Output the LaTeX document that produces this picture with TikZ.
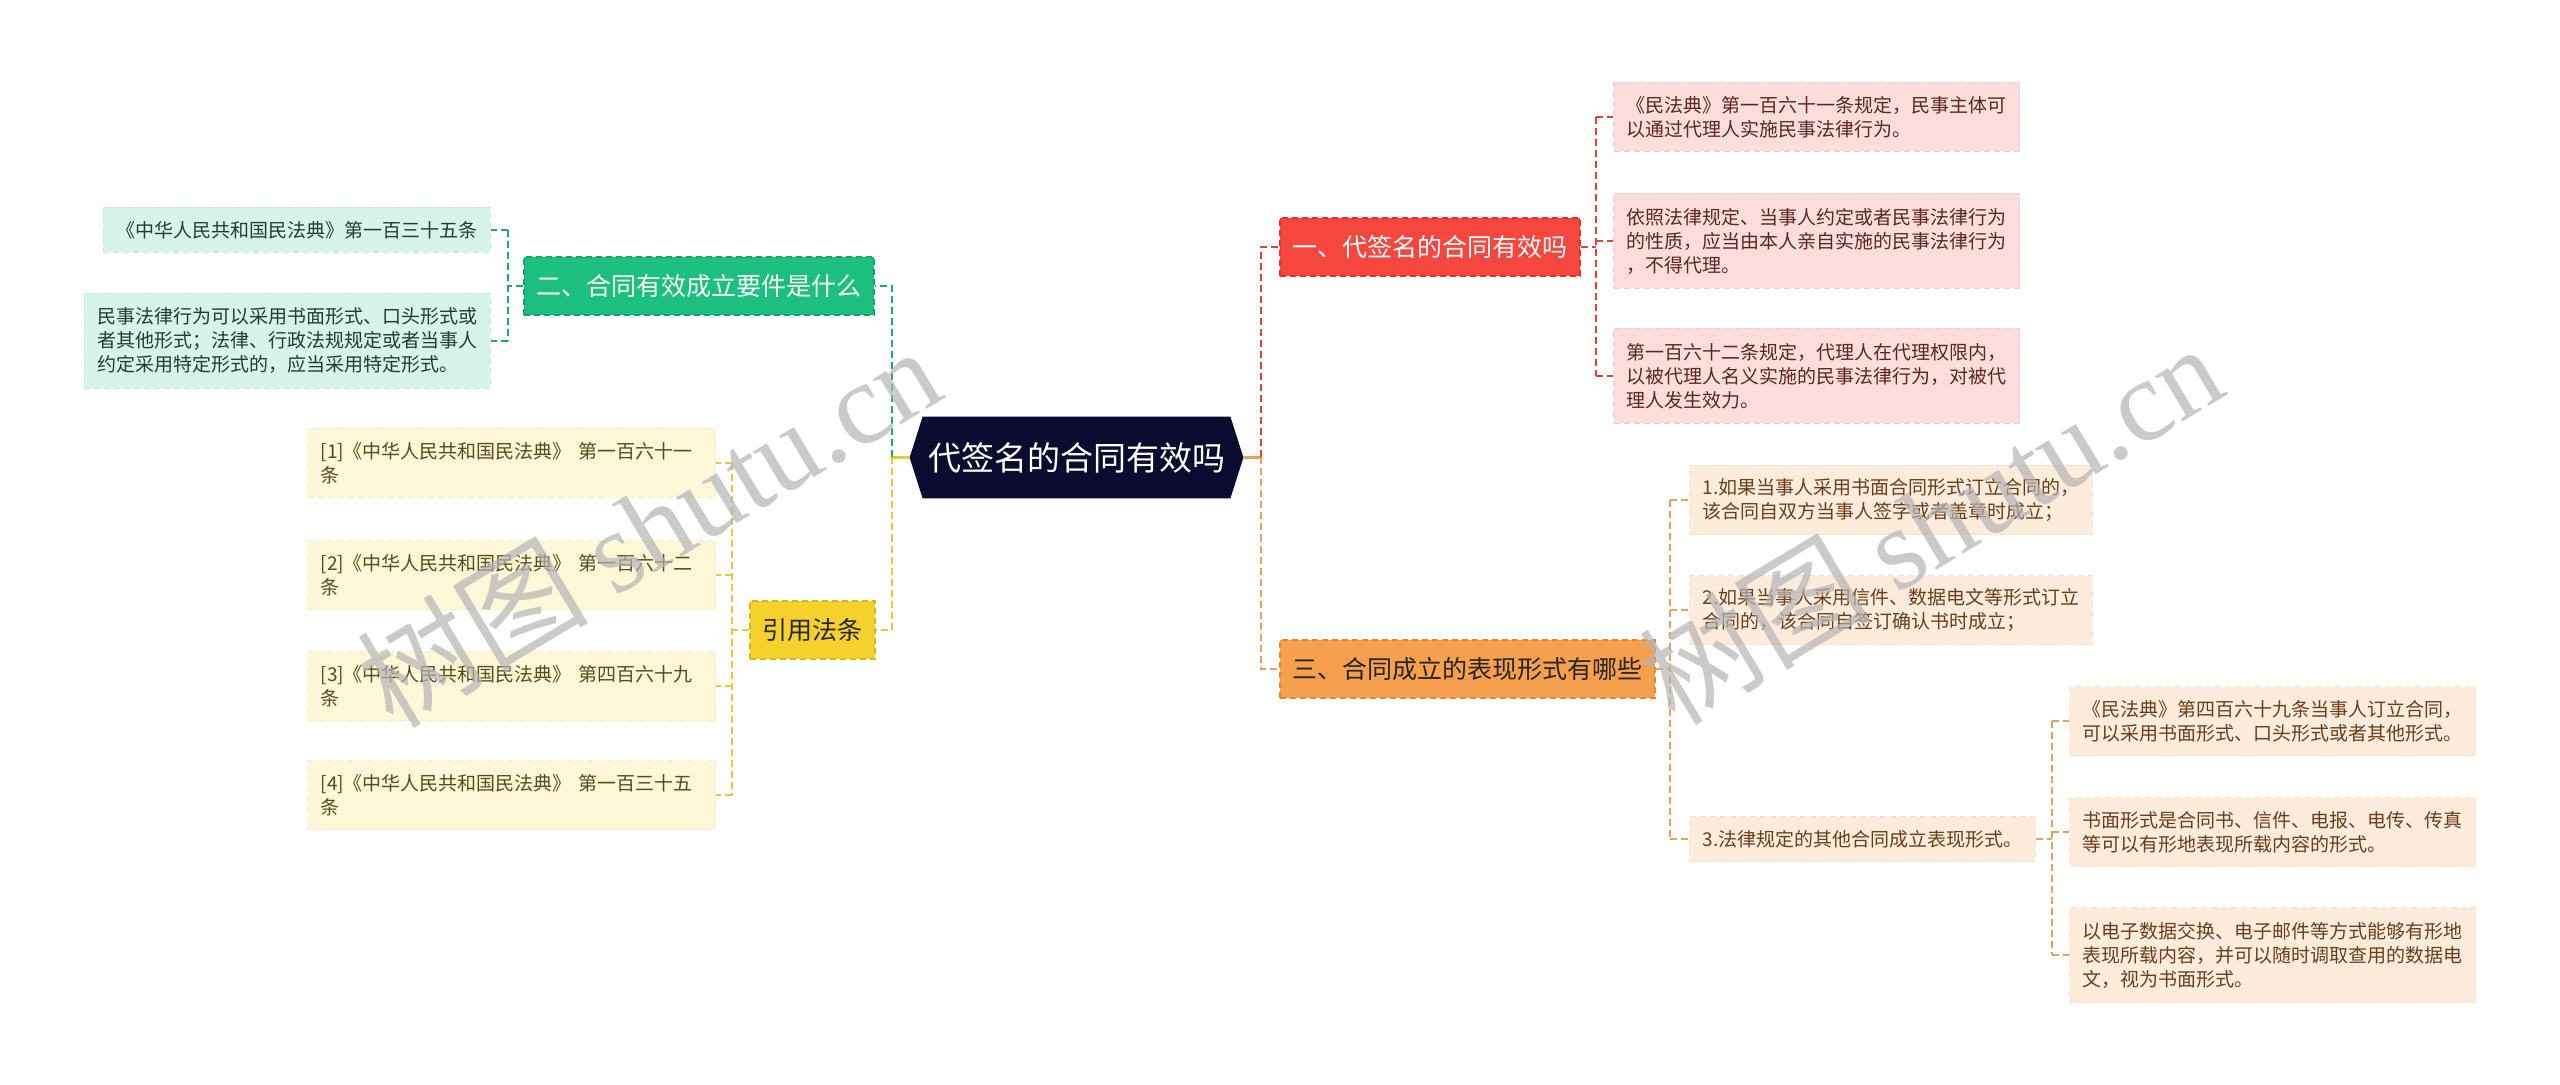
\documentclass[tikz,border=0pt]{standalone}
\usepackage{fontspec}
\setmainfont{Noto Sans CJK SC}
\newfontfamily\wmfont{Liberation Serif}
\usetikzlibrary{positioning,backgrounds,calc}
\definecolor{RootNavy}{HTML}{0A0B2E}
\definecolor{RedMain}{HTML}{F5473E}
\definecolor{RedEdge}{HTML}{D8362E}
\definecolor{RedSoft}{HTML}{FDDDDC}
\definecolor{RedText}{HTML}{5A2626}
\definecolor{RedLink}{HTML}{D9453E}
\definecolor{OrangeMain}{HTML}{F6A04D}
\definecolor{OrangeEdge}{HTML}{DE8A3A}
\definecolor{OrangeSoft}{HTML}{FDEBDC}
\definecolor{OrangeText}{HTML}{6B3E1B}
\definecolor{OrangeLink}{HTML}{E8A25E}
\definecolor{GreenMain}{HTML}{1CBF7E}
\definecolor{GreenEdge}{HTML}{12A569}
\definecolor{GreenSoft}{HTML}{D6F4E8}
\definecolor{GreenText}{HTML}{1F3D30}
\definecolor{GreenLink}{HTML}{1FA877}
\definecolor{YellowMain}{HTML}{F5D12B}
\definecolor{YellowEdge}{HTML}{D9B618}
\definecolor{YellowSoft}{HTML}{FDF6D7}
\definecolor{YellowText}{HTML}{5A4A1A}
\definecolor{YellowLink}{HTML}{E6C83A}
\definecolor{MarkGray}{HTML}{B4B4B4}

\begin{document}
\begin{tikzpicture}[x=0.5pt,y=-0.5pt,
  branch/.style={rectangle,minimum height=29pt,inner xsep=6.25pt,inner ysep=0pt,
    font=\fontsize{12.5}{15}\selectfont,dash pattern=on 3pt off 2pt,line width=0.8pt},
  leaf/.style={rectangle,inner xsep=6.5pt,inner ysep=0pt,align=left,
    font=\fontsize{9.5}{12}\selectfont,dash pattern=on 3pt off 2pt,line width=0.6pt},
  l1/.style={minimum height=22.5pt},
  l2/.style={minimum height=34.5pt},
  l3/.style={minimum height=47.5pt},
  redleaf/.style={leaf,fill=RedSoft,draw=RedEdge!25,text=RedText,anchor=west},
  orangeleaf/.style={leaf,fill=OrangeSoft,draw=OrangeEdge!25,text=OrangeText,anchor=west},
  greenleaf/.style={leaf,fill=GreenSoft,draw=GreenEdge!25,text=GreenText,anchor=east},
  yellowleaf/.style={leaf,fill=YellowSoft,draw=YellowEdge!25,text=YellowText,anchor=west,
    text width=191pt},
  link/.style={draw=#1,line width=1pt,dash pattern=on 3.5pt off 2pt},
  rootstub/.style={draw=#1,line width=1.2pt},
  wmark/.style={text=MarkGray,opacity=0.7,font=\fontsize{58}{60}\selectfont}
]
\useasboundingbox (0,0) rectangle (2560,1085);

% centre
\node[text=white,font=\fontsize{16.5}{18}\selectfont,minimum width=166.5pt,
  minimum height=40.5pt,inner sep=0pt] (root) at (1076.5,457.5) {代签名的合同有效吗};

% main branches
\node[branch,fill=RedMain,draw=RedEdge,text=white,anchor=west] (b1) at (1279,247) {一、代签名的合同有效吗};
\node[branch,fill=OrangeMain,draw=OrangeEdge,text=black!85,anchor=west] (b3) at (1279,669) {三、合同成立的表现形式有哪些};
\node[branch,fill=GreenMain,draw=GreenEdge,text=white,anchor=east] (b2) at (875,286) {二、合同有效成立要件是什么};
\node[branch,fill=YellowMain,draw=YellowEdge,text=black!85,anchor=east] (b4) at (876,630) {引用法条};

% branch one
\node[redleaf,l2] (r1) at (1613,117) {《民法典》第一百六十一条规定，民事主体可\\以通过代理人实施民事法律行为。};
\node[redleaf,l3] (r2) at (1613,241) {依照法律规定、当事人约定或者民事法律行为\\的性质，应当由本人亲自实施的民事法律行为\\，不得代理。};
\node[redleaf,l3] (r3) at (1613,376) {第一百六十二条规定，代理人在代理权限内，\\以被代理人名义实施的民事法律行为，对被代\\理人发生效力。};

% branch three
\node[orangeleaf,l2] (o1) at (1689,500) {1.如果当事人采用书面合同形式订立合同的，\\该合同自双方当事人签字或者盖章时成立；};
\node[orangeleaf,l2] (o2) at (1689,610) {2.如果当事人采用信件、数据电文等形式订立\\合同的，该合同自签订确认书时成立；};
\node[orangeleaf,l1] (o3) at (1689,839) {3.法律规定的其他合同成立表现形式。};
\node[orangeleaf,l2] (g1) at (2069,721) {《民法典》第四百六十九条当事人订立合同，\\可以采用书面形式、口头形式或者其他形式。};
\node[orangeleaf,l2] (g2) at (2069,832) {书面形式是合同书、信件、电报、电传、传真\\等可以有形地表现所载内容的形式。};
\node[orangeleaf,l3] (g3) at (2069,955) {以电子数据交换、电子邮件等方式能够有形地\\表现所载内容，并可以随时调取查用的数据电\\文，视为书面形式。};

% branch two
\node[greenleaf,l1] (m1) at (491,230) {《中华人民共和国民法典》第一百三十五条};
\node[greenleaf,l3] (m2) at (491,341) {民事法律行为可以采用书面形式、口头形式或\\者其他形式；法律、行政法规规定或者当事人\\约定采用特定形式的，应当采用特定形式。};

% references
\node[yellowleaf,l2] (y1) at (307,463) {[1]《中华人民共和国民法典》 第一百六十一\\条};
\node[yellowleaf,l2] (y2) at (307,575) {[2]《中华人民共和国民法典》 第一百六十二\\条};
\node[yellowleaf,l2] (y3) at (307,686) {[3]《中华人民共和国民法典》 第四百六十九\\条};
\node[yellowleaf,l2] (y4) at (307,795) {[4]《中华人民共和国民法典》 第一百三十五\\条};

% centre links
\draw[rootstub=OrangeLink] (root.east) -- ++(18,0) coordinate (rj);
\draw[rootstub=YellowLink] (root.west) -- ++(-18,0) coordinate (lj);
\draw[link=RedLink] (rj) -- (rj |- b1.west) -- (b1.west);
\draw[link=OrangeLink] (rj) -- (rj |- b3.west) -- (b3.west);
\draw[link=GreenLink] (lj) -- (lj |- b2.east) -- (b2.east);
\draw[link=YellowLink] (lj) -- (lj |- b4.east) -- (b4.east);

% spines
\coordinate (rs) at (1596,0);
\coordinate (os) at (1670,0);
\coordinate (gs) at (2052,0);
\coordinate (ms) at (508,0);
\coordinate (ys) at (732,0);

\draw[link=RedLink] (b1.east) -- (rs |- b1.east);
\draw[link=RedLink] (rs |- r1.west) -- (rs |- r3.west);
\foreach \n in {r1,r2,r3}
  \draw[link=RedLink] (rs |- \n.west) -- (\n.west);

\draw[link=OrangeLink] (b3.east) -- (os |- b3.east);
\draw[link=OrangeLink] (os |- o1.west) -- (os |- o3.west);
\foreach \n in {o1,o2,o3}
  \draw[link=OrangeLink] (os |- \n.west) -- (\n.west);

\draw[link=OrangeLink] (o3.east) -- (gs |- o3.east);
\draw[link=OrangeLink] (gs |- g1.west) -- (gs |- g3.west);
\foreach \n in {g1,g2,g3}
  \draw[link=OrangeLink] (gs |- \n.west) -- (\n.west);

\draw[link=GreenLink] (b2.west) -- (ms |- b2.west);
\draw[link=GreenLink] (ms |- m1.east) -- (ms |- m2.east);
\foreach \n in {m1,m2}
  \draw[link=GreenLink] (ms |- \n.east) -- (\n.east);

\draw[link=YellowLink] (b4.west) -- (ys |- b4.west);
\draw[link=YellowLink] (ys |- y1.east) -- (ys |- y4.east);
\foreach \n in {y1,y2,y3,y4}
  \draw[link=YellowLink] (ys |- \n.east) -- (\n.east);

\begin{scope}[on background layer]
\fill[white] (0,0) rectangle (2560,1085);
\fill[RootNavy] ([xshift=6.5pt]root.north west) -- ([xshift=-6.5pt]root.north east)
  -- (root.east) -- ([xshift=-6.5pt]root.south east)
  -- ([xshift=6.5pt]root.south west) -- (root.west) -- cycle;
\end{scope}

% watermark
\node[wmark,rotate=31] (wm1) at (648,526) {树图 {\wmfont shutu.cn}};
\node[wmark,rotate=31] (wm2) at (1930,523) {树图 {\wmfont shutu.cn}};
\end{tikzpicture}
\end{document}
